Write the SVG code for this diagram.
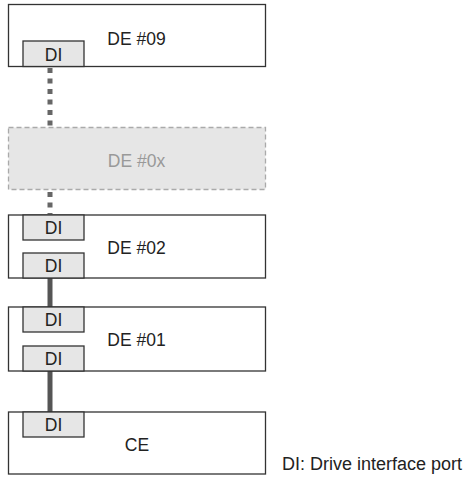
<svg xmlns="http://www.w3.org/2000/svg" width="469" height="481" viewBox="0 0 469 481">
<style>
.box{fill:#fff;stroke:#333;stroke-width:1.3}
.ghost{fill:#e6e6e6;stroke:#aaa;stroke-width:1.3;stroke-dasharray:5 3}
.di{fill:#e6e6e6;stroke:#333;stroke-width:1.3}
.t{font-family:"Liberation Sans",Arial,sans-serif;font-size:17.5px;fill:#222;text-anchor:middle}
.tg{fill:#999}
.leg{text-anchor:start;font-size:18px}
.dot{stroke:#666;stroke-width:5;stroke-dasharray:5 5.5;fill:none}
.sol{stroke:#555;stroke-width:5;fill:none}
</style>
<rect width="469" height="481" fill="#fff"/>
<g id="connectors">
<line class="dot" x1="50" y1="68" x2="50" y2="127"/>
<line class="dot" x1="50" y1="192" x2="50" y2="214"/>
<line class="sol" x1="50" y1="278" x2="50" y2="307"/>
<line class="sol" x1="50" y1="371" x2="50" y2="412"/>
</g>
<g id="de09">
<rect class="box" x="8.5" y="4.5" width="257" height="62"/>
<text class="t" x="136.5" y="45">DE #09</text>
<rect class="di" x="23" y="41" width="61" height="25.5"/>
<text class="t" x="53.5" y="61">DI</text>
</g>
<g id="de0x">
<rect class="ghost" x="8.5" y="127.5" width="257" height="62"/>
<text class="t tg" x="136.5" y="167">DE #0x</text>
</g>
<g id="de02">
<rect class="box" x="8.5" y="215" width="257" height="63"/>
<text class="t" x="136.5" y="254">DE #02</text>
<rect class="di" x="23" y="215" width="61" height="25"/>
<text class="t" x="53.5" y="234">DI</text>
<rect class="di" x="23" y="253" width="61" height="25"/>
<text class="t" x="53.5" y="272">DI</text>
</g>
<g id="de01">
<rect class="box" x="8.5" y="307" width="257" height="64"/>
<text class="t" x="136.5" y="346">DE #01</text>
<rect class="di" x="23" y="307" width="61" height="25"/>
<text class="t" x="53.5" y="326">DI</text>
<rect class="di" x="23" y="346" width="61" height="25"/>
<text class="t" x="53.5" y="365">DI</text>
</g>
<g id="ce">
<rect class="box" x="8.5" y="412" width="257" height="62"/>
<text class="t" x="137" y="451">CE</text>
<rect class="di" x="23" y="412" width="61" height="25"/>
<text class="t" x="53.5" y="431">DI</text>
</g>
<g id="legend">
<text class="t leg" x="282" y="470">DI: Drive interface port</text>
</g>
</svg>
